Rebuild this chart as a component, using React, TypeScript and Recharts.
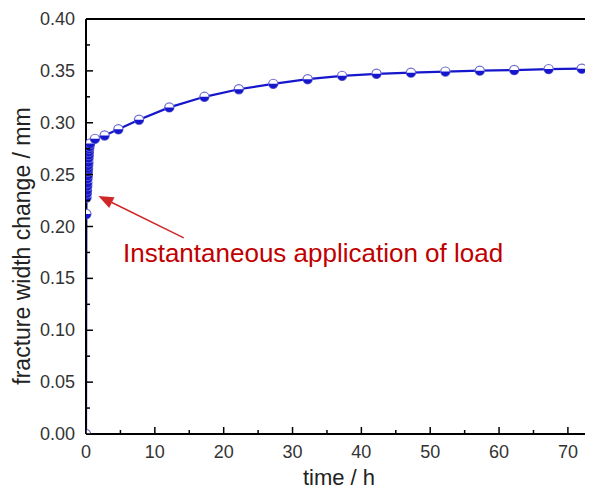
import React from 'react';
import { LineChart, Line, XAxis, YAxis, ReferenceLine } from 'recharts';

// Elapsed time (h) and measured fracture width change (mm)
const timeH = [
  0, 0.05, 0.08, 0.12, 0.15, 0.18, 0.2, 0.22, 0.25, 0.27, 0.3, 0.32, 0.35, 0.37,
  0.4, 0.42, 0.45, 0.5, 0.6, 1.3, 2.7, 4.7, 7.7, 12.1, 17.2, 22.2, 27.2, 32.2,
  37.2, 42.2, 47.2, 52.2, 57.2, 62.2, 67.2, 72.0,
];
const widthMm = [
  0, 0.212, 0.228, 0.232, 0.235, 0.239, 0.242, 0.246, 0.249, 0.253, 0.256, 0.259,
  0.262, 0.266, 0.269, 0.272, 0.275, 0.277, 0.28, 0.2845, 0.2877, 0.2937, 0.3029,
  0.3148, 0.325, 0.3323, 0.3375, 0.342, 0.3452, 0.3472, 0.3483, 0.3493, 0.3502,
  0.3508, 0.3517, 0.3521,
];

const xTicks = [0, 5, 10, 15, 20, 25, 30, 35, 40, 45, 50, 55, 60, 65, 70];
const yTicks = [
  0, 0.025, 0.05, 0.075, 0.1, 0.125, 0.15, 0.175, 0.2, 0.225, 0.25, 0.275, 0.3,
  0.325, 0.35, 0.375, 0.4,
];
const xMax = 73.5;
const yMax = 0.4;

// Arrow pointing at the jump at t = 0
const arrowTail = { t: 14.2, w: 0.189 };
const arrowHead = { t: 1.8, w: 0.2295 };
const noteText = 'Instantaneous application of load';

const data = timeH.map((t, i) => ({ t, w: widthMm[i] }));

const BLUE = '#1616cc';
const FONT = 'Arial, "Liberation Sans", Helvetica, sans-serif';

const HalfDot = (props: any) => {
  const { cx, cy } = props;
  if (cx == null || cy == null) return null;
  const r = 4.6;
  return (
    <g>
      <circle cx={cx} cy={cy} r={r} fill="#fff" stroke="#6a6ad0" strokeWidth={1.2} />
      <path
        d={`M ${cx - r} ${cy} A ${r} ${r} 0 0 0 ${cx + r} ${cy} Z`}
        fill={BLUE}
      />
    </g>
  );
};

const YTick = (props: any) => {
  const { x, y, payload } = props;
  const v = payload.value as number;
  const major = Math.abs(v * 20 - Math.round(v * 20)) < 1e-6;
  return (
    <g>
      <line x1={x} x2={x + (major ? 7 : 4)} y1={y} y2={y} stroke="#000" strokeWidth={1.5} />
      {major && (
        <text
          x={x - 11}
          y={y}
          textAnchor="end"
          dominantBaseline="central"
          fontSize={18}
          fontFamily={FONT}
          fill="#333"
        >
          {v.toFixed(2)}
        </text>
      )}
    </g>
  );
};

const XTick = (props: any) => {
  const { x, y, payload } = props;
  const v = payload.value as number;
  const major = v % 10 === 0;
  return (
    <g>
      <line x1={x} x2={x} y1={y} y2={y - (major ? 7 : 4)} stroke="#000" strokeWidth={1.5} />
      {major && (
        <text
          x={x}
          y={y + 18}
          textAnchor="middle"
          dominantBaseline="central"
          fontSize={18}
          fontFamily={FONT}
          fill="#333"
        >
          {v}
        </text>
      )}
    </g>
  );
};

const Arrow = (props: any) => {
  const { x1, y1, x2, y2 } = props;
  if ([x1, y1, x2, y2].some((n) => n == null)) return null;
  const dx = x2 - x1;
  const dy = y2 - y1;
  const len = Math.hypot(dx, dy);
  const ux = dx / len;
  const uy = dy / len;
  const headL = 15;
  const headW = 6;
  const bx = x2 - ux * headL;
  const by = y2 - uy * headL;
  const px = -uy * headW;
  const py = ux * headW;
  return (
    <g>
      <line x1={x1} y1={y1} x2={bx} y2={by} stroke="#d02828" strokeWidth={1.5} />
      <polygon
        points={`${x2},${y2} ${bx + px},${by + py} ${bx - px},${by - py}`}
        fill="#d02828"
      />
    </g>
  );
};

export default function App() {
  return (
    <div style={{ position: 'relative', margin: -8, width: 593, height: 495, background: '#fff' }}>
      <LineChart
        width={593}
        height={495}
        data={data}
        margin={{ top: 19, right: 1, bottom: 0, left: 0 }}
      >
        <XAxis
          type="number"
          dataKey="t"
          domain={[0, xMax]}
          ticks={xTicks}
          interval={0}
          tickSize={0}
          tickMargin={0}
          height={61}
          tick={<XTick />}
          axisLine={{ stroke: '#000', strokeWidth: 2 }}
          allowDataOverflow
        />
        <YAxis
          type="number"
          domain={[0, yMax]}
          ticks={yTicks}
          interval={0}
          tickSize={0}
          tickMargin={0}
          width={86}
          tick={<YTick />}
          axisLine={{ stroke: '#000', strokeWidth: 2 }}
          allowDataOverflow
        />
        <ReferenceLine y={yMax} stroke="#000" strokeWidth={2} />
        <ReferenceLine x={xMax} stroke="#000" strokeWidth={2} />
        <ReferenceLine
          segment={[
            { x: arrowTail.t, y: arrowTail.w },
            { x: arrowHead.t, y: arrowHead.w },
          ]}
          shape={<Arrow />}
        />
        <Line
          type="linear"
          dataKey="w"
          stroke={BLUE}
          strokeWidth={2.2}
          dot={<HalfDot />}
          isAnimationActive={false}
        />
      </LineChart>
      <svg
        width={593}
        height={495}
        style={{ position: 'absolute', left: 0, top: 0, pointerEvents: 'none' }}
      >
        <text x={123} y={262} fontSize={26} fontFamily={FONT} fill="#c00000">
          {noteText}
        </text>
        <text
          x={339}
          y={477}
          textAnchor="middle"
          dominantBaseline="central"
          fontSize={22}
          fontFamily={FONT}
          fill="#222"
        >
          time / h
        </text>
        <text
          transform="translate(22,246) rotate(-90)"
          textAnchor="middle"
          dominantBaseline="central"
          fontSize={23}
          fontFamily={FONT}
          fill="#222"
        >
          fracture width change / mm
        </text>
      </svg>
    </div>
  );
}
